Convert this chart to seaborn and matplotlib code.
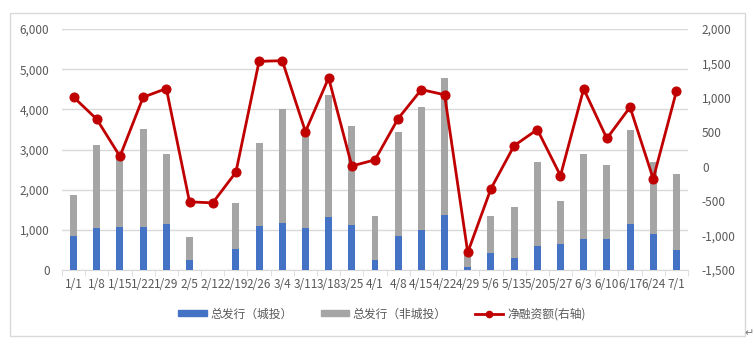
import matplotlib
matplotlib.use("Agg")
import matplotlib.pyplot as plt
import seaborn as sns
import numpy as np
import pandas as pd
from matplotlib.lines import Line2D
from matplotlib.patches import Patch, Rectangle
from matplotlib.ticker import FuncFormatter, FixedLocator

dates = ["1/1", "1/8", "1/15", "1/22", "1/29", "2/5", "2/12", "2/19", "2/26", "3/4",
         "3/11", "3/18", "3/25", "4/1", "4/8", "4/15", "4/22", "4/29", "5/6", "5/13",
         "5/20", "5/27", "6/3", "6/10", "6/17", "6/24", "7/1"]
city = [850, 1050, 1060, 1060, 1145, 260, 0, 515, 1095, 1170,
        1045, 1320, 1120, 250, 850, 1005, 1370, 75, 425, 305,
        605, 640, 765, 765, 1145, 890, 500]
noncity = [1010, 2050, 1740, 2460, 1745, 550, 0, 1155, 2065, 2840,
           2405, 3040, 2465, 1095, 2580, 3055, 3410, 290, 920, 1270,
           2095, 1080, 2115, 1850, 2340, 1790, 1880]
net = [1010, 690, 150, 1010, 1135, -510, -525, -80, 1530, 1540,
       510, 1290, 10, 100, 700, 1120, 1045, -1245, -320, 305,
       540, -130, 1130, 410, 865, -175, 1095]

labels = ["总发行（城投）", "总发行（非城投）", "净融资额(右轴)"]

plt.rcParams['font.family'] = ['Noto Sans CJK SC', 'DejaVu Sans']

df = pd.DataFrame({"date": dates, "city": city, "noncity": noncity, "net": net})
df["total"] = df["city"] + df["noncity"]

BLUE = "#4472C4"
GRAY = "#A5A5A5"
RED = "#C00000"
TXT = "#595959"
GRID = "#D9D9D9"

fig = plt.figure(figsize=(7.54, 3.46), dpi=100)
ax = fig.add_axes([62/754, 1-270/346, (688-62)/754, (270-29)/346])

sns.barplot(data=df, x="date", y="total", color=GRAY, width=0.3, ax=ax,
            saturation=1, errorbar=None, zorder=2)
sns.barplot(data=df, x="date", y="city", color=BLUE, width=0.3, ax=ax,
            saturation=1, errorbar=None, zorder=3)

ax.set_ylim(0, 6000)
ax.set_yticks(np.arange(0, 6001, 1000))
ax.yaxis.set_major_formatter(FuncFormatter(lambda v, p: f"{int(v):,}"))
ax.set_xlim(-0.5, len(dates) - 0.5)
ax.grid(axis="y", color=GRID, linewidth=1, zorder=0)
ax.set_axisbelow(True)
for s in ["top", "right", "left"]:
    ax.spines[s].set_visible(False)
ax.spines["bottom"].set_color(GRID)
ax.tick_params(axis="y", length=0, labelsize=8.5, labelcolor=TXT, pad=9)
ax.tick_params(axis="x", which="major", length=0, labelsize=8.5, labelcolor=TXT, pad=6)
ax.xaxis.set_minor_locator(FixedLocator(np.arange(-0.5, len(dates), 1)))
ax.tick_params(axis="x", which="minor", length=4, color=GRID)
ax.set_xlabel("")
ax.set_ylabel("")

ax2 = ax.twinx()
sns.lineplot(x=np.arange(len(dates)), y=df["net"].values, ax=ax2, color=RED,
             linewidth=2.0, marker="o", markersize=6.5, markeredgecolor=RED,
             zorder=5)
ax2.set_ylim(-1500, 2000)
ax2.set_yticks(np.arange(-1500, 2001, 500))
ax2.yaxis.set_major_formatter(FuncFormatter(lambda v, p: f"{int(v):,}"))
for s in ["top", "right", "left", "bottom"]:
    ax2.spines[s].set_visible(False)
ax2.tick_params(axis="y", length=0, labelsize=8.5, labelcolor=TXT, pad=10)
ax2.set_ylabel("")
ax2.set_xlim(-0.5, len(dates) - 0.5)

handles = [Patch(facecolor=BLUE, edgecolor=BLUE),
           Patch(facecolor=GRAY, edgecolor=GRAY),
           Line2D([0], [0], color=RED, linewidth=2.0, marker="o", markersize=4.5)]
fig.legend(handles, labels, loc="center", bbox_to_anchor=(382/754, 1-314/346),
           ncol=3, frameon=False, fontsize=8.5, labelcolor=TXT,
           handlelength=2.4, handleheight=0.45, columnspacing=2.4, handletextpad=0.3)

fig.patches.append(Rectangle((10/754, 1-336/346), (745-10)/754, (336-13)/346,
                             transform=fig.transFigure, fill=False,
                             edgecolor="#D9D9D9", linewidth=1))
fig.text(749/754, 1-333/346, "↵", fontsize=8, color="#808080", ha="center", va="center",
         family=["DejaVu Sans"])

fig.savefig("out.png", dpi=100)
